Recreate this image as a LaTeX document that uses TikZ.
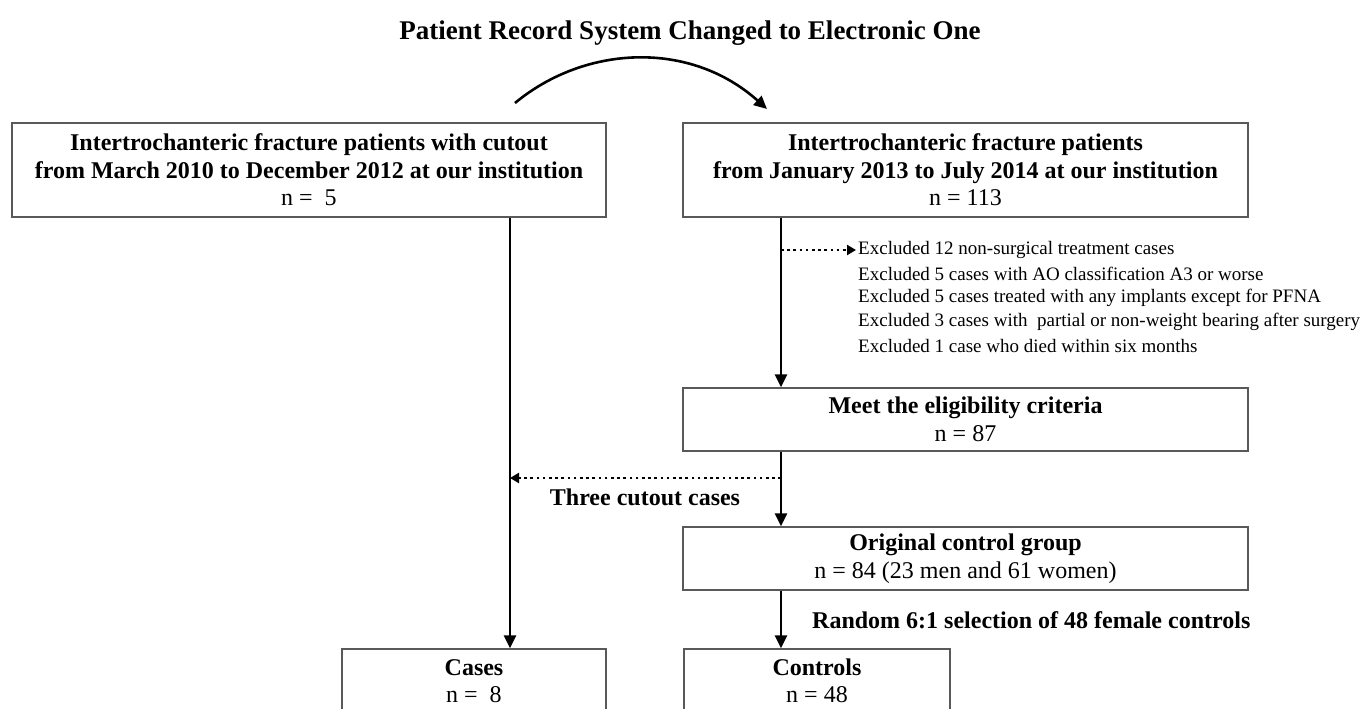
\documentclass[tikz,border=0pt]{standalone}
\usepackage{fontspec}
\setmainfont{Liberation Serif}
\usetikzlibrary{arrows.meta}
\begin{document}
\begin{tikzpicture}[x=1pt,y=-1pt,
  box/.style={draw=black!65, line width=1.4pt, align=center, inner sep=0pt,
    font=\fontsize{24}{27.5}\selectfont\bfseries},
  conn/.style={line width=2.6pt, -{Triangle[length=13pt,width=12pt]}},
  dotconn/.style={line width=2.6pt, dash pattern=on 2.6pt off 3.6pt, -{Triangle[length=9pt,width=10pt]}},
  bold24/.style={inner sep=0pt, font=\fontsize{24}{27.5}\selectfont\bfseries},
  excl/.style={anchor=west, inner sep=2pt, font=\fontsize{19}{23}\selectfont}
]
\clip (0,0) rectangle (1363,709);
\fill[white] (0,0) rectangle (1363,709);

\node[inner sep=0pt, font=\fontsize{27}{30}\selectfont\bfseries] (title) at (690,33) {Patient Record System Changed to Electronic One};

\node[box, minimum width=594pt, minimum height=94pt] (L1) at (309,170)
  {Intertrochanteric fracture patients with cutout\\from March 2010 to December 2012 at our institution\\{\mdseries n =\ \ 5}};
\node[box, minimum width=565pt, minimum height=94pt] (R1) at (965.5,170)
  {Intertrochanteric fracture patients\\from January 2013 to July 2014 at our institution\\{\mdseries n = 113}};

\coordinate (a1) at (515,103);
\coordinate (a2) at (767,109);
\draw[conn] (a1) .. controls (585,45) and (690,40) .. (a2);

\coordinate (rx) at (781,0);
\coordinate (lx) at (510,0);

\node[excl] (ex1) at (856,250) {Excluded 12 non-surgical treatment cases};
\node[excl] (ex2) at (856,274) {Excluded 5 cases with AO classification A3 or worse};
\node[excl] (ex3) at (856,298) {Excluded 5 cases treated with any implants except for PFNA};
\node[excl] (ex4) at (856,322) {Excluded 3 cases with\ \ partial or non-weight bearing after surgery};
\node[excl] (ex5) at (856,346) {Excluded 1 case who died within six months};

\node[box, minimum width=565pt, minimum height=63pt] (meet) at (965.5,419.5)
  {Meet the eligibility criteria\\{\mdseries n = 87}};
\node[box, minimum width=565pt, minimum height=63pt] (orig) at (965.5,558.5)
  {Original control group\\{\mdseries n = 84 (23 men and 61 women)}};

\node[box, minimum width=264pt, minimum height=64pt] (cases) at (474,681)
  {Cases\\{\mdseries n =\ \ 8}};
\node[box, minimum width=266pt, minimum height=64pt] (ctrl) at (817,681)
  {Controls\\{\mdseries n = 48}};

\node[bold24] (three) at (645,497) {Three cutout cases};
\node[bold24, anchor=west] (rand) at (812,620) {Random 6:1 selection of 48 female controls};

\draw[conn] (R1.south -| rx) -- (meet.north -| rx);
\draw[dotconn] (rx |- ex1) -- (ex1.west);
\coordinate (t1) at (781,478);
\draw[dotconn] (t1) -- (lx |- t1);
\draw[conn] (meet.south -| rx) -- (orig.north -| rx);
\draw[conn] (orig.south -| rx) -- (ctrl.north -| rx);
\draw[conn] (L1.south -| lx) -- (cases.north -| lx);
\end{tikzpicture}
\end{document}
